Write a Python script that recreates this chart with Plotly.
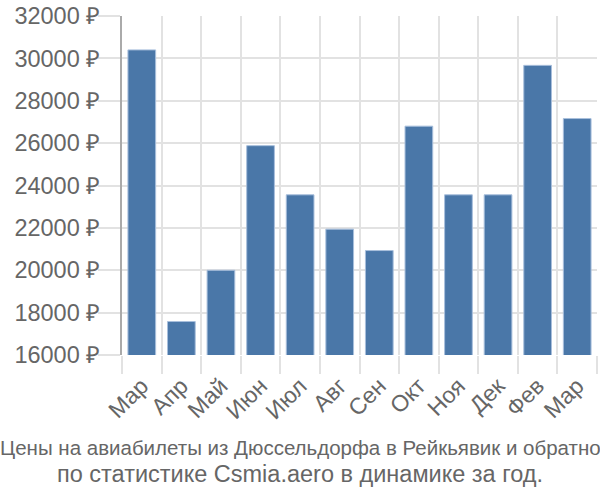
import plotly.graph_objects as go

months = ["Мар", "Апр", "Май", "Июн", "Июл", "Авг", "Сен", "Окт", "Ноя", "Дек", "Фев", "Мар"]
prices = [30400, 17580, 20000, 25880, 23560, 21940, 20930, 26800, 23560, 23560, 29670, 27160]
y_ticks = [16000, 18000, 20000, 22000, 24000, 26000, 28000, 30000, 32000]
title_line1 = "Цены на авиабилеты из Дюссельдорфа в Рейкьявик и обратно"
title_line2 = "по статистике Csmia.aero в динамике за год."

xs = list(range(len(months)))
bounds = [i - 0.5 for i in range(len(months) + 1)]

fig = go.Figure(go.Bar(
    x=xs, y=prices, width=0.7,
    marker=dict(color="#4a77a8", line=dict(color="#a8bfdc", width=1)),
))

grid = "#e2e2e2"
text_col = "#666666"
font = "Liberation Sans, Arial, sans-serif"

fig.update_layout(
    width=600, height=500,
    margin=dict(l=122, r=3, t=14, b=145),
    plot_bgcolor="white", paper_bgcolor="white",
    showlegend=False,
    font=dict(family=font, color=text_col, size=23),
    xaxis=dict(
        range=[-0.5, len(months) - 0.5],
        tickvals=xs, ticktext=months, tickangle=-45,
        showgrid=False, ticks="", ticklabelstandoff=12,
        tickfont=dict(size=23, color=text_col),
        zeroline=False, showline=False,
        minor=dict(tickvals=bounds, showgrid=True, gridcolor=grid, gridwidth=2,
                   ticks="outside", ticklen=18, tickcolor=grid, tickwidth=2),
    ),
    yaxis=dict(
        range=[16000, 32000], tickvals=y_ticks,
        ticktext=[f"{v} ₽" for v in y_ticks],
        showgrid=True, gridcolor=grid, gridwidth=2,
        ticks="", ticklabelstandoff=15,
        showline=True, linecolor="#aaaaaa", linewidth=2,
        zeroline=False, tickfont=dict(size=23.5, color=text_col),
        minor=dict(tickvals=y_ticks, showgrid=False,
                   ticks="outside", ticklen=22, tickcolor=grid, tickwidth=2),
    ),
    annotations=[
        dict(text=title_line1, xref="paper", yref="paper", x=0.375, xanchor="center",
             y=-0.272, yanchor="middle", showarrow=False,
             font=dict(family=font, size=20.5, color=text_col)),
        dict(text=title_line2, xref="paper", yref="paper", x=0.375, xanchor="center",
             y=-0.352, yanchor="middle", showarrow=False,
             font=dict(family=font, size=23.5, color=text_col)),
    ],
)

fig.write_html("out.html")
